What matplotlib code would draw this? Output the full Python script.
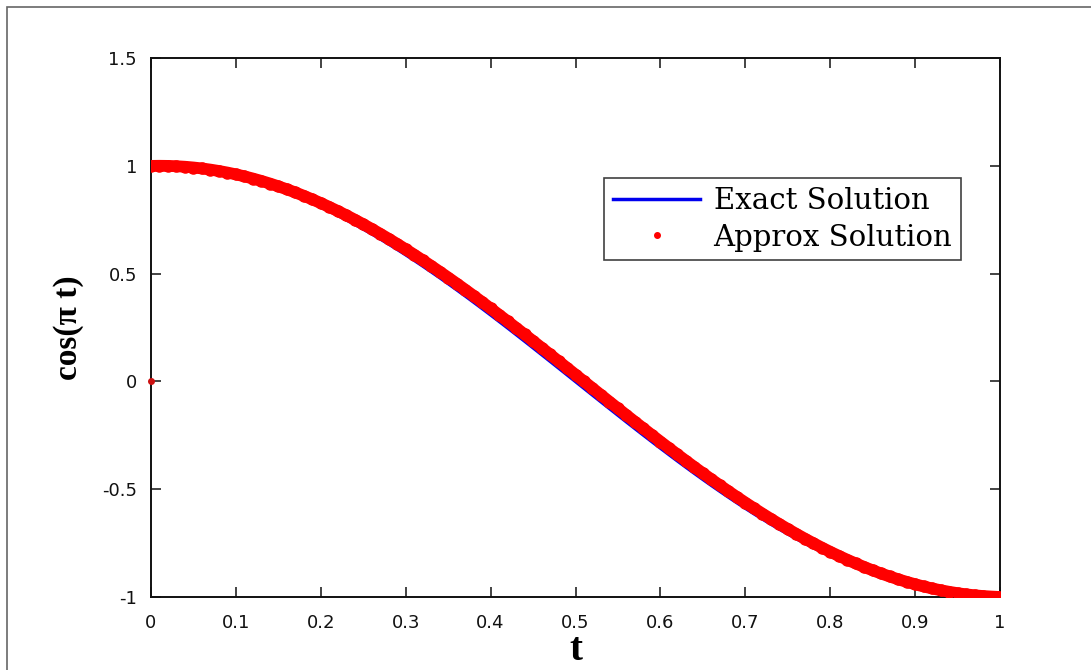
import matplotlib
matplotlib.use("Agg")
import matplotlib.pyplot as plt
from matplotlib.lines import Line2D
from matplotlib.patches import Rectangle

# ---- data ----
t = [0.00, 0.01, 0.02, 0.03, 0.04, 0.05, 0.06, 0.07, 0.08, 0.09,
     0.10, 0.11, 0.12, 0.13, 0.14, 0.15, 0.16, 0.17, 0.18, 0.19,
     0.20, 0.21, 0.22, 0.23, 0.24, 0.25, 0.26, 0.27, 0.28, 0.29,
     0.30, 0.31, 0.32, 0.33, 0.34, 0.35, 0.36, 0.37, 0.38, 0.39,
     0.40, 0.41, 0.42, 0.43, 0.44, 0.45, 0.46, 0.47, 0.48, 0.49,
     0.50, 0.51, 0.52, 0.53, 0.54, 0.55, 0.56, 0.57, 0.58, 0.59,
     0.60, 0.61, 0.62, 0.63, 0.64, 0.65, 0.66, 0.67, 0.68, 0.69,
     0.70, 0.71, 0.72, 0.73, 0.74, 0.75, 0.76, 0.77, 0.78, 0.79,
     0.80, 0.81, 0.82, 0.83, 0.84, 0.85, 0.86, 0.87, 0.88, 0.89,
     0.90, 0.91, 0.92, 0.93, 0.94, 0.95, 0.96, 0.97, 0.98, 0.99, 1.00]

exact = [1.0000, 0.9995, 0.9980, 0.9956, 0.9921, 0.9877, 0.9823, 0.9759, 0.9686, 0.9603,
         0.9511, 0.9409, 0.9298, 0.9178, 0.9048, 0.8910, 0.8763, 0.8607, 0.8443, 0.8271,
         0.8090, 0.7902, 0.7705, 0.7501, 0.7290, 0.7071, 0.6846, 0.6613, 0.6374, 0.6129,
         0.5878, 0.5621, 0.5358, 0.5090, 0.4818, 0.4540, 0.4258, 0.3972, 0.3681, 0.3387,
         0.3090, 0.2790, 0.2487, 0.2181, 0.1874, 0.1564, 0.1253, 0.0941, 0.0628, 0.0314,
         0.0000, -0.0314, -0.0628, -0.0941, -0.1253, -0.1564, -0.1874, -0.2181, -0.2487, -0.2790,
         -0.3090, -0.3387, -0.3681, -0.3972, -0.4258, -0.4540, -0.4818, -0.5090, -0.5358, -0.5621,
         -0.5878, -0.6129, -0.6374, -0.6613, -0.6846, -0.7071, -0.7290, -0.7501, -0.7705, -0.7902,
         -0.8090, -0.8271, -0.8443, -0.8607, -0.8763, -0.8910, -0.9048, -0.9178, -0.9298, -0.9409,
         -0.9511, -0.9603, -0.9686, -0.9759, -0.9823, -0.9877, -0.9921, -0.9956, -0.9980, -0.9995, -1.0000]

# approximate solution: lies a little above / right of the exact curve
approx = [0.9995, 1.0000, 0.9995, 0.9980, 0.9956, 0.9921, 0.9877, 0.9823, 0.9759, 0.9686,
          0.9603, 0.9511, 0.9409, 0.9298, 0.9178, 0.9048, 0.8910, 0.8763, 0.8607, 0.8443,
          0.8271, 0.8090, 0.7902, 0.7705, 0.7501, 0.7290, 0.7071, 0.6846, 0.6613, 0.6374,
          0.6129, 0.5878, 0.5621, 0.5358, 0.5090, 0.4818, 0.4540, 0.4258, 0.3972, 0.3681,
          0.3387, 0.3090, 0.2790, 0.2487, 0.2181, 0.1874, 0.1564, 0.1253, 0.0941, 0.0628,
          0.0314, 0.0000, -0.0314, -0.0628, -0.0941, -0.1253, -0.1564, -0.1874, -0.2181, -0.2487,
          -0.2790, -0.3090, -0.3387, -0.3681, -0.3972, -0.4258, -0.4540, -0.4818, -0.5090, -0.5358,
          -0.5621, -0.5878, -0.6129, -0.6374, -0.6613, -0.6846, -0.7071, -0.7290, -0.7501, -0.7705,
          -0.7902, -0.8090, -0.8271, -0.8443, -0.8607, -0.8763, -0.8910, -0.9048, -0.9178, -0.9298,
          -0.9409, -0.9511, -0.9603, -0.9686, -0.9759, -0.9823, -0.9877, -0.9921, -0.9956, -0.9980, -1.0000]

# stray approximate point at the origin
stray_t = [0.0]
stray_y = [0.0]

xticks = [0, 0.1, 0.2, 0.3, 0.4, 0.5, 0.6, 0.7, 0.8, 0.9, 1]
xticklabels = ["0", "0.1", "0.2", "0.3", "0.4", "0.5", "0.6", "0.7", "0.8", "0.9", "1"]
yticks = [-1, -0.5, 0, 0.5, 1, 1.5]
yticklabels = ["-1", "-0.5", "0", "0.5", "1", "1.5"]

# ---- figure ----
W, H = 1091, 670
fig = plt.figure(figsize=(W / 100, H / 100), dpi=100)
fig.patch.set_facecolor("white")

# outer frame of the picture
fig.patches.append(Rectangle((7 / W, -0.1), 1.2, 1 - 6.5 / H + 0.1,
                             transform=fig.transFigure, fill=False,
                             edgecolor="#666666", linewidth=1.2))

ax = fig.add_axes([151 / W, 1 - 597 / H, (1000 - 151) / W, (597 - 58) / H])

red = "#ff0000"
blue = "#0000ee"

ax.plot(t, exact, color=blue, linewidth=2.6, zorder=2)
ax.plot(t, approx, color=red, linewidth=8.5, solid_capstyle="round", zorder=3)
ax.plot(t, approx, linestyle="none", marker="o", markersize=8,
        markerfacecolor=red, markeredgecolor=red, zorder=3)
ax.plot(stray_t, stray_y, linestyle="none", marker="o", markersize=4,
        markerfacecolor="#cc1111", markeredgecolor="#cc1111", zorder=4, clip_on=False)

ax.set_xlim(0, 1)
ax.set_ylim(-1, 1.5)
ax.set_xticks(xticks)
ax.set_xticklabels(xticklabels)
ax.set_yticks(yticks)
ax.set_yticklabels(yticklabels)

for lab in ax.get_xticklabels() + ax.get_yticklabels():
    lab.set_fontfamily("DejaVu Sans")
    lab.set_fontsize(13)
    lab.set_color("#111111")

ax.tick_params(direction="in", length=7, width=1.1, top=True, right=True,
               colors="#111111")
ax.tick_params(axis="x", pad=12)
ax.tick_params(axis="y", pad=10)
for sp in ax.spines.values():
    sp.set_linewidth(1.4)
    sp.set_color("#111111")

ax.set_xlabel("t", family="Liberation Serif", fontweight="bold", fontsize=28, labelpad=0)
ax.set_ylabel("cos(π t)", family="Liberation Serif", fontweight="bold",
              fontsize=24, labelpad=13)

handles = [Line2D([0], [0], color=blue, linewidth=2.5),
           Line2D([0], [0], linestyle="none", marker="o", markersize=4,
                  markerfacecolor=red, markeredgecolor=red)]
leg = ax.legend(handles, ["Exact Solution", "Approx Solution"],
                loc="upper right", bbox_to_anchor=(0.954, 0.777),
                borderaxespad=0, prop=dict(family="DejaVu Serif", size=21),
                frameon=True, fancybox=False, handlelength=3.0,
                handletextpad=0.45, borderpad=0.3, labelspacing=0.3)
leg.get_frame().set_edgecolor("#111111")
leg.get_frame().set_linewidth(1.2)

fig.savefig("out.png", dpi=100, facecolor="white")
